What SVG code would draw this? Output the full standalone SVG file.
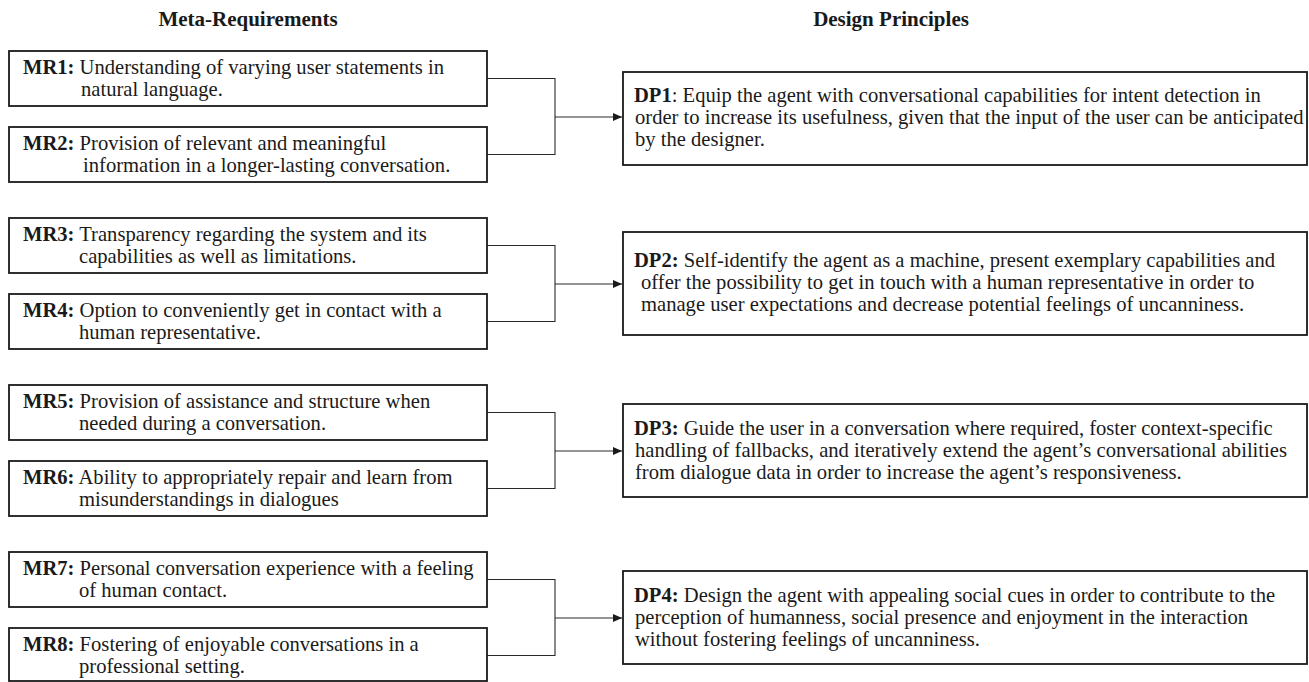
<svg xmlns="http://www.w3.org/2000/svg" width="1309" height="682" viewBox="0 0 1309 682">
<style>
text{font-family:"Liberation Serif","Times New Roman",serif;font-size:20.6px;fill:#1a1a1a}
.hd{font-weight:bold;font-size:21px;text-anchor:middle}
.b{font-weight:bold}
.box{fill:#fff;stroke:#1a1a1a;stroke-width:1.8}
.con{fill:none;stroke:#2a2a2a;stroke-width:1.1}
</style>
<defs>
<marker id="ah" markerUnits="userSpaceOnUse" markerWidth="10" markerHeight="9" refX="9" refY="4.5" orient="auto">
<path d="M0,0.5 L9,4.5 L0,8.5 z" fill="#1a1a1a"/>
</marker>
</defs>
<rect width="1309" height="682" fill="#fff"/>
<text class="hd" x="248" y="26">Meta-Requirements</text>
<text class="hd" x="891" y="26">Design Principles</text>

<g id="connectors">
<path class="con" d="M487,78.5 H555 V154.5 H487"/>
<path class="con" d="M555,117 H622" marker-end="url(#ah)"/>
<path class="con" d="M487,245.5 H555 V321.5 H487"/>
<path class="con" d="M555,284 H622" marker-end="url(#ah)"/>
<path class="con" d="M487,412.5 H555 V488.5 H487"/>
<path class="con" d="M555,451 H622" marker-end="url(#ah)"/>
<path class="con" d="M487,579.5 H555 V655.5 H487"/>
<path class="con" d="M555,618 H622" marker-end="url(#ah)"/>
</g>

<g id="MR1"><rect class="box" x="9" y="51" width="478" height="55"/>
<text x="23" y="74"><tspan class="b">MR1:</tspan>  Understanding of varying user statements in</text>
<text x="81" y="96">natural language.</text></g>
<g id="MR2"><rect class="box" x="9" y="127" width="478" height="55"/>
<text x="23" y="150"><tspan class="b">MR2:</tspan> Provision of relevant and meaningful</text>
<text x="83" y="172">information in a longer-lasting conversation.</text></g>

<g id="MR3"><rect class="box" x="9" y="218" width="478" height="55"/>
<text x="23" y="241"><tspan class="b">MR3:</tspan> Transparency regarding the system and its</text>
<text x="79" y="263">capabilities as well as limitations.</text></g>
<g id="MR4"><rect class="box" x="9" y="294" width="478" height="55"/>
<text x="23" y="317"><tspan class="b">MR4:</tspan> Option to conveniently get in contact with a</text>
<text x="79" y="339">human representative.</text></g>

<g id="MR5"><rect class="box" x="9" y="385" width="478" height="55"/>
<text x="23" y="408"><tspan class="b">MR5:</tspan> Provision of assistance and structure when</text>
<text x="79" y="430">needed during a conversation.</text></g>
<g id="MR6"><rect class="box" x="9" y="461" width="478" height="55"/>
<text x="23" y="484"><tspan class="b">MR6:</tspan> Ability to appropriately repair and learn from</text>
<text x="79" y="506">misunderstandings in dialogues</text></g>

<g id="MR7"><rect class="box" x="9" y="552" width="478" height="55"/>
<text x="23" y="575"><tspan class="b">MR7:</tspan> Personal conversation experience with a feeling</text>
<text x="79" y="597">of human contact.</text></g>
<g id="MR8"><rect class="box" x="9" y="628" width="478" height="53"/>
<text x="23" y="651"><tspan class="b">MR8:</tspan> Fostering of enjoyable conversations in a</text>
<text x="79" y="673">professional setting.</text></g>

<g id="DP1"><rect class="box" x="623" y="72" width="684" height="93"/>
<text x="634" y="102"><tspan class="b">DP1</tspan>: Equip the agent with conversational capabilities for intent detection in</text>
<text x="635" y="124">order to increase its usefulness, given that the input of the user can be anticipated</text>
<text x="635" y="146">by the designer.</text></g>

<g id="DP2"><rect class="box" x="623" y="232" width="684" height="103"/>
<text x="634" y="267"><tspan class="b">DP2:</tspan> Self-identify the agent as a machine, present exemplary capabilities and</text>
<text x="641" y="289">offer the possibility to get in touch with a human representative in order to</text>
<text x="641" y="311">manage user expectations and decrease potential feelings of uncanniness.</text></g>

<g id="DP3"><rect class="box" x="623" y="404" width="684" height="93"/>
<text x="634" y="435"><tspan class="b">DP3:</tspan> Guide the user in a conversation where required, foster context-specific</text>
<text x="635" y="457">handling of fallbacks, and iteratively extend the agent’s conversational abilities</text>
<text x="635" y="479">from dialogue data in order to increase the agent’s responsiveness.</text></g>

<g id="DP4"><rect class="box" x="623" y="571" width="684" height="93"/>
<text x="634" y="602"><tspan class="b">DP4:</tspan> Design the agent with appealing social cues in order to contribute to the</text>
<text x="635" y="624">perception of humanness, social presence and enjoyment in the interaction</text>
<text x="635" y="646">without fostering feelings of uncanniness.</text></g>
</svg>
